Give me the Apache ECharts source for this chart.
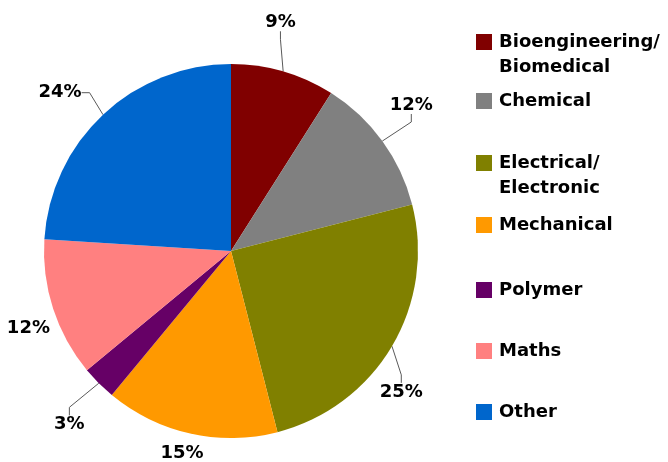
<!DOCTYPE html>
<html>
<head>
<meta charset="utf-8">
<script src="https://cdn.jsdelivr.net/npm/echarts@6/dist/echarts.min.js"></script>
<style>
  html, body { margin: 0; padding: 0; background: #fff; }
  #main { width: 668px; height: 462px; }
</style>
</head>
<body>
<div id="main"></div>
<script>
// discipline shares, clockwise from 12 o'clock
var names = ['Bioengineering/\nBiomedical', 'Chemical', 'Electrical/\nElectronic', 'Mechanical', 'Polymer', 'Maths', 'Other'];
var values = [9, 12, 25, 15, 3, 12, 24];
var colors = ['#800000', '#808080', '#808000', '#FF9900', '#660066', '#FF8080', '#0066CC'];

var FONT = 'DejaVu Sans';
var LH = 25;
var CX = 231, CY = 251, R = 187;
// y centre of each legend swatch
var legendY = [42, 101, 163, 225, 290, 351, 412];
// label placement relative to slice middle: angle nudge (deg) and distance from centre
var labelShift = [-4, -3, 9, 1, -2, -3, -4];
var labelDist = [234, 232, 221, 208, 237, 217, 233];

var total = values.reduce(function (a, b) { return a + b; }, 0);
function midAngle(i) {
  var before = 0;
  for (var k = 0; k < i; k++) before += values[k];
  return (before + values[i] / 2) / total * 360;
}

var chart = echarts.init(document.getElementById('main'), null, { renderer: 'canvas' });

var legends = names.map(function (n, i) {
  var twoLines = n.indexOf('\n') >= 0;
  return {
    orient: 'vertical',
    left: 476,
    top: legendY[i] - (twoLines ? LH * 1.5 : LH / 2),
    padding: 0,
    itemWidth: 16,
    itemHeight: 16,
    itemGap: 0,
    icon: 'rect',
    selectedMode: false,
    data: [n],
    // blank first line so the swatch sits level with the first text line
    formatter: function (name) { return twoLines ? ' \n' + name : name; },
    textStyle: {
      fontFamily: FONT,
      fontWeight: 'bold',
      fontSize: 18,
      color: '#000',
      lineHeight: LH,
      padding: [0, 0, 0, 2]
    }
  };
});

var option = {
  animation: false,
  color: colors,
  legend: legends,
  series: [{
    type: 'pie',
    center: [CX, CY],
    radius: R,
    startAngle: 90,
    clockwise: true,
    avoidLabelOverlap: false,
    itemStyle: { borderWidth: 0 },
    label: {
      show: true,
      position: 'outside',
      formatter: '{c}%',
      fontFamily: FONT,
      fontWeight: 'bold',
      fontSize: 18,
      color: '#000'
    },
    labelLine: {
      show: true,
      length: 12,
      length2: 8,
      lineStyle: { color: '#595959', width: 1 }
    },
    labelLayout: function (params) {
      var i = params.dataIndex;
      var a = (midAngle(i) + labelShift[i]) * Math.PI / 180;
      return {
        x: CX + labelDist[i] * Math.sin(a),
        y: CY - labelDist[i] * Math.cos(a),
        align: 'center',
        verticalAlign: 'middle'
      };
    },
    emphasis: { disabled: true },
    data: names.map(function (n, i) {
      return {
        name: n,
        value: values[i],
        labelLine: { show: labelDist[i] > 225 || labelShift[i] > 5 }
      };
    })
  }]
};

chart.setOption(option);
</script>
</body>
</html>
